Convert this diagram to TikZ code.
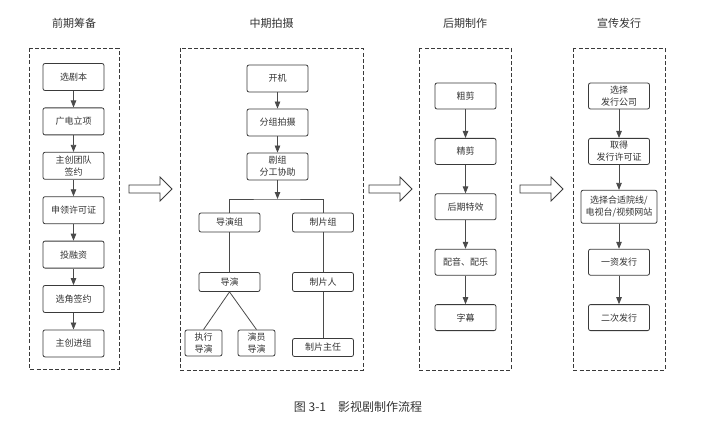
\documentclass[tikz,border=0pt]{standalone}
\usepackage{fontspec}
\setmainfont{Noto Sans CJK SC}
\usetikzlibrary{arrows.meta}
\definecolor{boxline}{HTML}{3A3A3A}
\definecolor{txt}{HTML}{333333}
\definecolor{wire}{HTML}{4A4A4A}

\begin{document}
\begin{tikzpicture}[x=1pt, y=-1pt,
    box/.style={draw=boxline, rounded corners=2pt, line width=0.8pt, fill=white,
      minimum width=61pt, minimum height=27pt, inner sep=0pt, align=center,
      text=txt, font=\fontsize{9}{12}\selectfont},
    flat/.style={box, minimum height=19pt},
    small/.style={box, minimum width=37pt, minimum height=26pt},
    panel/.style={draw=boxline, dashed, dash pattern=on 4pt off 2.2pt, line width=0.8pt},
    title/.style={text=txt, font=\fontsize{11}{13}\selectfont},
    arr/.style={draw=wire, line width=0.8pt, -{Triangle[length=7pt,width=5.5pt]}},
    link/.style={draw=wire, line width=0.8pt},
    bigarrow/.style={draw=boxline, line width=0.8pt, fill=white}]
  \useasboundingbox (0,0) rectangle (708,422);

  % stage frames
  \draw[panel] (29,48) rectangle (119,369);
  \draw[panel] (180,48) rectangle (363,370);
  \draw[panel] (419,48) rectangle (511,370);
  \draw[panel] (573,48) rectangle (665,370);

  % stage titles
  \node[title] (t1) at (74,23) {前期筹备};
  \node[title] (t2) at (271.5,23) {中期拍摄};
  \node[title] (t3) at (465,23) {后期制作};
  \node[title] (t4) at (619,23) {宣传发行};

  % hollow arrows between stages
  \foreach \x in {129, 369, 520}{
    \draw[bigarrow] (\x,185) -- (\x+31,185) -- (\x+31,177) -- (\x+43,189)
      -- (\x+31,201) -- (\x+31,193) -- (\x,193) -- cycle;
  }

  % 前期筹备
  \foreach \t [count=\i] in {选剧本, 广电立项, {主创团队\\签约}, 申领许可证,
      投融资, 选角签约, 主创进组}{
    \node[box] (pre\i) at (73.5, 32.6+44.4*\i) {\t};
  }
  \foreach \i [count=\j from 2] in {1,...,6}{
    \draw[arr] (pre\i) -- (pre\j);
  }

  % 中期拍摄
  \node[box] (start) at (277.5,78.5) {开机};
  \node[box] (shoot) at (277.5,122.5) {分组拍摄};
  \node[box] (crew) at (277.5,166.5) {剧组\\分工协助};
  \coordinate (split) at (277.5,199);
  \node[flat] (dirgrp) at (229.5,222.5) {导演组};
  \node[flat] (prodgrp) at (323,222.5) {制片组};
  \node[flat] (director) at (229.5,282) {导演};
  \node[flat] (producer) at (323,282) {制片人};
  \node[small] (execdir) at (203.5,343) {执行\\导演};
  \node[small] (castdir) at (256.5,343) {演员\\导演};
  \node[box, minimum height=18pt] (prodmgr) at (323,347.5) {制片主任};

  \draw[arr] (start) -- (shoot);
  \draw[arr] (shoot) -- (crew);
  \draw[arr] (crew) -- (split);
  \draw[link] (dirgrp) |- (split) -| (prodgrp);
  \draw[link] (dirgrp) -- (director);
  \draw[link] (director.south) -- (execdir.north);
  \draw[link] (director.south) -- (castdir.north);
  \draw[link] (prodgrp) -- (producer);
  \draw[link] (producer) -- (prodmgr);

  % 后期制作
  \foreach \t [count=\i] in {粗剪, 精剪, 后期特效, 配音、配乐, 字幕}{
    \node[box, minimum height=26pt] (post\i) at (465.5, 40.6+55.4*\i) {\t};
  }
  \foreach \i [count=\j from 2] in {1,...,4}{
    \draw[arr] (post\i) -- (post\j);
  }

  % 宣传发行
  \node[box, minimum height=26pt] (rel1) at (619,96) {选择\\发行公司};
  \node[box, minimum height=26pt] (rel2) at (619,151.4) {取得\\发行许可证};
  \node[box, minimum width=76pt, minimum height=33pt] (rel3) at (619,206.8)
    {选择合适院线/\\电视台/视频网站};
  \node[box, minimum height=26pt] (rel4) at (619,262.2) {一资发行};
  \node[box, minimum height=26pt] (rel5) at (619,317.6) {二次发行};
  \foreach \i [count=\j from 2] in {1,...,4}{
    \draw[arr] (rel\i) -- (rel\j);
  }

  % caption
  \node[text=txt, font=\fontsize{12}{14}\selectfont] (caption) at (358,407)
    {图 3-1\quad 影视剧制作流程};
\end{tikzpicture}
\end{document}
